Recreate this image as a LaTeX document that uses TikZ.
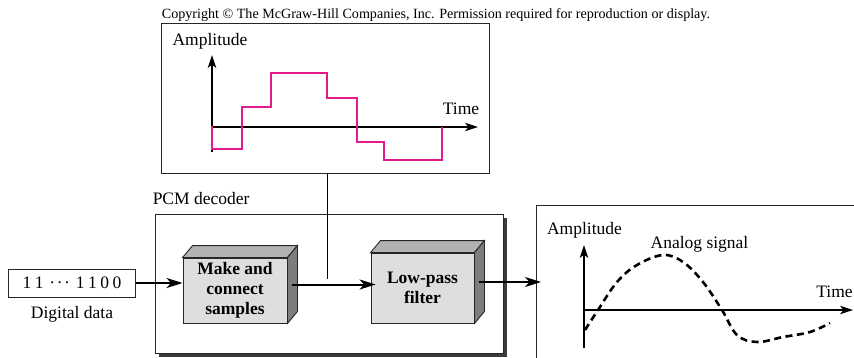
\documentclass[tikz,border=0pt]{standalone}
\usepackage{fontspec}
\setmainfont{Liberation Serif}
\usetikzlibrary{arrows.meta, positioning, shadows}
\definecolor{stepmagenta}{RGB}{228,25,140}
\definecolor{facefront}{RGB}{222,222,222}
\definecolor{facetop}{RGB}{178,178,178}
\definecolor{faceside}{RGB}{125,125,125}
\definecolor{shadowgray}{RGB}{60,60,60}
\begin{document}
\begin{tikzpicture}[x=1pt, y=-1pt,
    lbl/.style={font=\fontsize{17.5}{20}\selectfont, inner sep=0pt},
    frame/.style={draw=black!85, line width=0.9pt},
    axis/.style={line width=1.2pt, -{Stealth[length=13pt, width=8.5pt, inset=3.5pt]}},
    sig arrow/.style={line width=2pt, -{Stealth[length=16pt, width=10pt, inset=4.5pt]}},
    block/.style={frame, fill=facefront, font=\bfseries\fontsize{17.5}{20}\selectfont, align=center, inner sep=0pt}]
  \useasboundingbox (0,0) rectangle (854,357);
  \node[font=\fontsize{14.1}{16}\selectfont, inner sep=0pt, anchor=base] (copy) at (436,18)
    {Copyright \textcopyright{} The McGraw-Hill Companies, Inc. Permission required for reproduction or display.};
  % sampled signal
  \node[frame, fill=white, minimum width=328pt, minimum height=150pt, inner sep=0pt] (samplesplot) at (325,98) {};
  \draw[axis] (212,152) -- (212,55);
  \draw[axis] (212,127) -- (478,127);
  \node[lbl, anchor=base] (amp1) at (210,45) {Amplitude};
  \node[lbl, anchor=base] (time1) at (461,114) {Time};
  \draw[stepmagenta, line width=2.6pt, line join=miter] (212,126) -- (212,149) -- (242,149) -- (242,107) -- (271,107)
    -- (271,73) -- (327,73) -- (327,98) -- (357,98) -- (357,142) -- (384,142) -- (384,160) -- (442,160) -- (442,127);
  % decoder
  \node[frame, fill=white, minimum width=348pt, minimum height=139pt, inner sep=0pt,
    drop shadow={shadow xshift=4pt, shadow yshift=-4pt, fill=shadowgray, opacity=1}] (decoder) at (329,283.5) {};
  \node[lbl, anchor=base west] (declbl) at ([shift={(-2,-9)}]decoder.north west) {PCM decoder};
  \coordinate (tap) at (327,279);
  \draw[line width=0.9pt] (tap |- samplesplot.south) -- (tap);
  \node[block, minimum width=104pt, minimum height=65pt] (make) at (235,290.5) {Make and\\connect\\samples};
  \node[block, minimum width=103pt, minimum height=70pt] (lowpass) at (422.5,288) {Low-pass\\filter};
  \foreach \blk in {make, lowpass}{
    \filldraw[frame, fill=facetop] (\blk.north west) -- ++(10,-12) -- ([shift={(10,-12)}]\blk.north east) -- (\blk.north east) -- cycle;
    \filldraw[frame, fill=faceside] (\blk.north east) -- ++(10,-12) -- ([shift={(10,-12)}]\blk.south east) -- (\blk.south east) -- cycle;
  }
  % input
  \node[frame, lbl, minimum width=127pt, minimum height=28pt] (digits) at (72,283)
    {1\hspace{3.5pt}1\hspace{6pt}\textperiodcentered\kern1.5pt\textperiodcentered\kern1.5pt\textperiodcentered\hspace{6pt}1\hspace{3.5pt}1\hspace{3.5pt}0\hspace{3.5pt}0};
  \node[lbl, below=9pt of digits] (digitslbl) {Digital data};
  % analog output
  \coordinate (panel) at (536,205);
  \draw[frame] (860,205) -- (panel) -- (536,362);
  \draw[axis] (584,348) -- (584,245);
  \draw[axis] (584,310) -- (853,310);
  \node[lbl, anchor=base] (amp2) at (584.5,234) {Amplitude};
  \node[lbl, anchor=base] (analog) at (699.5,248) {Analog signal};
  \node[lbl, anchor=base] (time2) at (834.5,297) {Time};
  \draw[line width=2.6pt, dash pattern=on 7pt off 4.5pt] plot[smooth, tension=0.6] coordinates
    {(585,330) (598,310) (617,282) (637,265) (663,255) (683,262) (703,282) (722,310) (737,335) (757,342) (783,337) (810,332) (830,323)};
  % signal path
  \draw[sig arrow] (digits.east) -- (digits.east -| make.west);
  \draw[sig arrow] ([shift={(5,-6)}]make.east) -- ([shift={(5,-6)}]make.east -| lowpass.west);
  \draw[sig arrow] ([shift={(5,-6)}]lowpass.east) -- ([shift={(5,-6)}]lowpass.east -| panel);
\end{tikzpicture}
\end{document}
